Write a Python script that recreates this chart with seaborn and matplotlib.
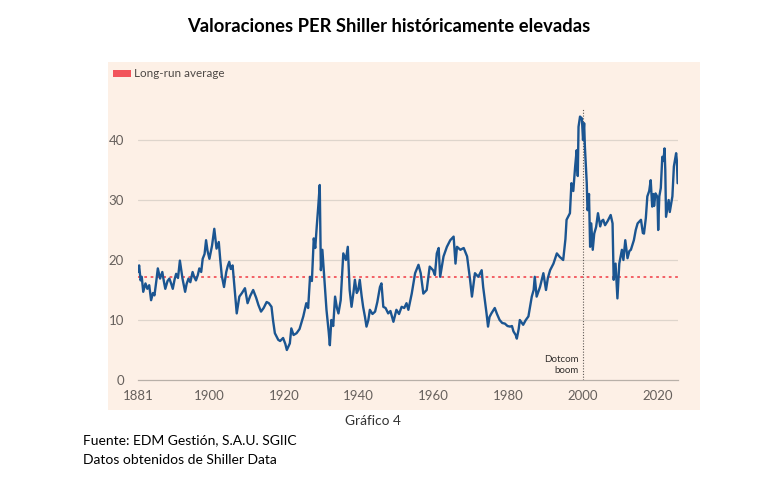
"""
Shiller CAPE (PER Shiller) chart, FT-style panel.
"""

import matplotlib
matplotlib.use("Agg")
import matplotlib.pyplot as plt
from matplotlib.patches import Rectangle
import pandas as pd
import seaborn as sns

# Data (year, CAPE)
years = [
    1881.0, 1881.3, 1881.7, 1882.0, 1882.4, 1883.0, 1883.5, 1884.0,
    1884.5, 1885.0, 1885.4, 1885.9, 1886.3, 1886.9, 1887.5, 1887.9,
    1888.3, 1888.9, 1889.4, 1889.9, 1890.3, 1890.8, 1891.2, 1891.7,
    1892.2, 1892.9, 1893.6, 1894.0, 1894.5, 1895.0, 1895.6, 1896.0,
    1896.5, 1897.0, 1897.4, 1897.9, 1898.3, 1898.8, 1899.2, 1899.6,
    1900.1, 1900.8, 1901.4, 1902.0, 1902.6, 1903.0, 1903.4, 1904.0,
    1904.6, 1905.0, 1905.4, 1905.8, 1906.3, 1906.8,
    1907.4, 1908.1, 1908.8, 1909.6, 1910.3, 1911.0, 1911.8, 1912.6, 1913.2, 1913.9,
    1914.6, 1915.4, 1916.0, 1916.7, 1917.1, 1917.6, 1918.5, 1919.0, 1919.8, 1920.4,
    1920.8, 1921.6, 1922.0, 1922.6, 1923.4, 1924.2, 1925.2, 1926.0, 1926.5, 1927.0,
    1927.5, 1928.0, 1928.4, 1928.8, 1929.2, 1929.6, 1929.9, 1930.3, 1930.9, 1931.4,
    1932.0, 1932.3, 1932.7, 1933.2, 1933.7, 1934.2, 1934.6, 1935.2, 1935.9, 1936.6,
    1937.1, 1937.6, 1938.1, 1938.6, 1939.0, 1939.5, 1939.9, 1940.3, 1940.8, 1941.2,
    1941.7, 1942.1, 1942.6, 1943.0, 1943.7, 1944.4, 1945.0, 1945.7, 1946.1, 1946.6,
    1947.2, 1947.9, 1948.5, 1949.3, 1950.1, 1950.8, 1951.5, 1952.2, 1952.8, 1953.3,
    1954.2, 1955.1, 1956.0, 1956.6, 1957.3, 1958.2, 1959.0, 1959.9, 1960.4, 1960.9,
    1961.4, 1961.8, 1962.7, 1963.6, 1964.5, 1965.4, 1965.9, 1966.3, 1967.2, 1968.1,
    1969.0, 1969.8, 1970.3, 1971.1, 1972.0, 1972.9, 1973.3, 1974.2, 1974.6, 1975.0,
    1975.5, 1976.4, 1977.0, 1977.7, 1978.4, 1979.1, 1979.8, 1980.5, 1981.0, 1981.4,
    1982.0, 1982.3, 1982.8, 1983.1, 1984.0, 1984.7, 1985.4, 1986.3, 1986.8, 1987.1,
    1987.6, 1988.5, 1989.4, 1990.1, 1990.6, 1991.2, 1992.1, 1993.0, 1993.8, 1994.7,
    1995.3, 1995.6, 1996.5, 1996.9, 1997.4, 1997.9, 1998.3, 1998.6, 1998.8, 1999.2,
    1999.7,
    2000.0, 2000.3, 2000.5, 2001.0, 2001.2, 2001.4, 2001.6, 2001.9,
    2002.2, 2002.6, 2003.0, 2003.5, 2004.0, 2004.6, 2005.0, 2005.4,
    2005.9, 2006.6, 2007.0, 2007.4, 2007.9, 2008.2, 2008.7, 2009.2,
    2009.7, 2010.4, 2010.8, 2011.3, 2011.9, 2012.4, 2012.8, 2013.6,
    2014.1, 2014.6, 2015.5, 2016.0, 2016.3, 2016.8, 2017.2, 2017.7,
    2018.1, 2018.5, 2018.8, 2019.0, 2019.4, 2019.9, 2020.1, 2020.4,
    2020.8, 2021.2, 2021.5, 2021.8, 2022.0, 2022.2, 2022.9, 2023.2,
    2023.9, 2024.3, 2024.9, 2025.1, 2025.3,
]
cape = [
    18.0, 19.1, 16.6, 17.2, 14.7, 16.1, 15.2, 15.8,
    13.3, 14.5, 14.1, 16.5, 18.6, 16.9, 18.0, 16.5,
    15.2, 16.5, 16.9, 16.0, 15.2, 16.8, 17.7, 17.0,
    19.9, 16.9, 14.7, 16.0, 16.9, 16.3, 18.0, 17.2,
    16.6, 17.5, 18.6, 18.0, 20.2, 21.0, 23.3, 21.5,
    20.2, 22.4, 25.2, 21.9, 23.0, 20.0, 17.4, 15.5,
    18.0, 19.0, 19.7, 18.5, 19.1, 15.5,
    11.1, 13.9, 14.5, 15.3, 12.8, 14.0, 15.0, 13.7, 12.5, 11.4,
    12.0, 13.0, 12.8, 12.2, 10.0, 7.8, 6.7, 6.5, 7.0, 6.0,
    5.0, 6.1, 8.6, 7.5, 7.8, 8.5, 10.6, 12.8, 12.0, 17.2,
    16.5, 23.6, 22.0, 25.6, 28.9, 32.5, 18.3, 21.7, 16.1, 11.7,
    8.0, 5.8, 10.0, 9.0, 13.9, 12.0, 11.1, 13.3, 21.1, 20.0,
    22.2, 15.0, 12.2, 14.5, 16.7, 14.5, 15.0, 16.7, 14.0, 12.2,
    10.5, 8.9, 10.0, 11.7, 11.0, 11.4, 13.0, 15.5, 16.1, 12.2,
    12.0, 11.1, 11.5, 9.7, 11.7, 11.0, 12.2, 12.0, 12.8, 11.7,
    14.4, 17.8, 19.2, 17.8, 14.4, 15.0, 18.9, 18.3, 17.5, 21.1,
    22.0, 17.2, 20.6, 22.2, 23.3, 23.9, 19.4, 22.2, 21.7, 22.0,
    20.6, 16.7, 13.9, 17.8, 17.2, 18.3, 15.5, 11.1, 8.9, 10.5,
    11.1, 12.0, 11.0, 10.0, 9.5, 9.4, 9.0, 8.9, 9.0, 8.1,
    7.5, 6.9, 8.5, 10.0, 9.2, 10.0, 10.6, 13.9, 15.0, 17.2,
    13.9, 15.5, 17.8, 15.0, 17.0, 18.3, 19.4, 21.1, 20.5, 20.0,
    23.5, 26.7, 27.8, 32.8, 31.5, 35.6, 38.3, 34.0, 42.2, 43.9,
    43.6,
    40.0, 42.8, 38.9, 32.8, 28.3, 28.9, 31.0, 22.2,
    26.1, 21.7, 24.4, 25.5, 27.8, 25.6, 26.5, 26.7,
    25.8, 26.5, 27.0, 27.5, 26.1, 16.7, 19.4, 13.6,
    19.4, 21.7, 20.0, 23.3, 20.3, 21.5, 21.7, 23.3,
    25.0, 26.1, 26.7, 24.5, 24.4, 27.0, 30.6, 31.5,
    33.3, 28.9, 31.0, 29.0, 31.1, 30.5, 25.0, 30.6,
    32.0, 37.2, 36.5, 38.6, 35.0, 27.2, 30.0, 28.0,
    30.6, 35.6, 37.8, 36.5, 32.8,
]
long_run_avg = 17.25
dotcom_year = 2000
x_ticks = [1881, 1900, 1920, 1940, 1960, 1980, 2000, 2020]
y_ticks = [0, 10, 20, 30, 40]

LINE_BLUE = "#1B5591"
AVG_RED = "#F2545B"
PANEL_BG = "#FDF0E6"
GRID = "#DED5CC"
TEXT_GREY = "#66605C"

sns.set_style("white")
plt.rcParams["font.family"] = ["Lato", "DejaVu Sans"]

fig = plt.figure(figsize=(7.75, 4.82), dpi=100)
fig.patch.set_facecolor("white")

# peach panel behind the chart
fig.patches.append(Rectangle((108 / 775, 1 - 410 / 482), 592 / 775, 348 / 482,
                             transform=fig.transFigure, facecolor=PANEL_BG,
                             edgecolor="none", zorder=-5))

ax = fig.add_axes([138 / 775, 1 - 380 / 482, 540 / 775, 282 / 482])
ax.set_facecolor("none")

df = pd.DataFrame({"year": years, "cape": cape})
sns.lineplot(data=df, x="year", y="cape", ax=ax, color=LINE_BLUE, linewidth=1.7, zorder=4)

ax.axhline(long_run_avg, color=AVG_RED, linewidth=1.3, linestyle=(0, (1.5, 2)), zorder=3)
ax.plot([dotcom_year, dotcom_year], [0, 45.3], color="#5E5955", linewidth=0.8,
        linestyle=(0, (1, 1.5)), zorder=2)
ax.text(dotcom_year - 1.3, 0.8, "Dotcom\nboom", ha="right", va="bottom",
        fontsize=7, color="#33302E", linespacing=1.35)

ax.set_xlim(1881, 2025.4)
ax.set_ylim(0, 47)
ax.set_xticks(x_ticks)
ax.set_yticks(y_ticks)
ax.set_xlabel("")
ax.set_ylabel("")

for y in y_ticks[1:]:
    ax.axhline(y, color=GRID, linewidth=0.9, zorder=1)

for side in ["left", "top", "right"]:
    ax.spines[side].set_visible(False)
ax.spines["bottom"].set_color("#B8B0A8")
ax.spines["bottom"].set_linewidth(0.9)
ax.tick_params(axis="x", length=5, width=0.9, color="#B8B0A8", labelsize=9.5,
               labelcolor=TEXT_GREY, pad=2)
ax.tick_params(axis="y", length=0, labelsize=9.5, labelcolor=TEXT_GREY, pad=10)
ax.grid(False)

# legend swatch
fig.patches.append(Rectangle((113 / 775, 1 - 77 / 482), 18 / 775, 7 / 482,
                             transform=fig.transFigure, facecolor=AVG_RED,
                             edgecolor="none", zorder=2))
fig.text(134 / 775, 1 - 73.5 / 482, "Long-run average", ha="left", va="center",
         fontsize=8.4, color="#4D4845")

fig.text(389 / 775, 1 - 27 / 482, "Valoraciones PER Shiller históricamente elevadas",
         ha="center", va="center", fontsize=13.2, fontweight="bold", color="black")
fig.text(373 / 775, 1 - 421 / 482, "Gráfico 4", ha="center", va="center",
         fontsize=9.9, color="#333333")
fig.text(83 / 775, 1 - 440 / 482, "Fuente: EDM Gestión, S.A.U. SGIIC", ha="left",
         va="center", fontsize=10, color="black")
fig.text(83 / 775, 1 - 460 / 482, "Datos obtenidos de Shiller Data", ha="left",
         va="center", fontsize=10, color="black")

fig.savefig("out.png", dpi=100)
plt.close(fig)
